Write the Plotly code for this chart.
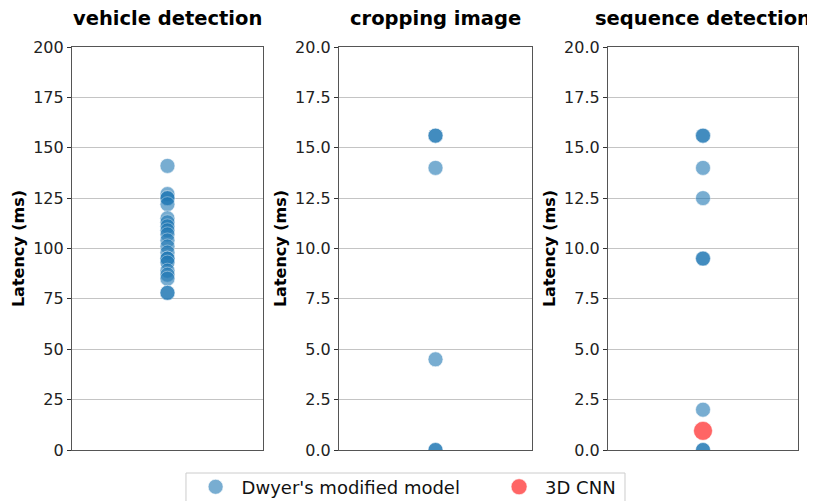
import plotly.graph_objects as go
from plotly.subplots import make_subplots

panel_titles = ["vehicle detection", "cropping image", "sequence detection"]
vehicle_dwyer = [141, 127, 125, 125, 122, 115, 113, 111, 109, 107, 104, 101,
                 98, 95, 95, 93, 89, 87, 85, 78, 78]
cropping_dwyer = [15.6, 15.6, 14.0, 4.5, 0.0, 0.0]
sequence_dwyer = [15.6, 15.6, 14.0, 12.5, 9.5, 9.5, 2.0, 0.0, 0.0]
sequence_cnn = [0.95]
y_ranges = [[0, 200], [0, 20], [0, 20]]
tick_vals_1 = [0, 25, 50, 75, 100, 125, 150, 175, 200]
tick_vals_2 = [0, 2.5, 5, 7.5, 10, 12.5, 15, 17.5, 20]
tick_text_2 = ["0.0", "2.5", "5.0", "7.5", "10.0", "12.5", "15.0", "17.5", "20.0"]

BLUE = "#1f77b4"
RED = "#ff0000"
FONT = "DejaVu Sans"

fig = make_subplots(rows=1, cols=3, horizontal_spacing=0.1)

dwyer_series = [vehicle_dwyer, cropping_dwyer, sequence_dwyer]
for i, vals in enumerate(dwyer_series):
    fig.add_trace(go.Scatter(
        x=[0] * len(vals), y=vals, mode="markers",
        name="Dwyer's modified model", legendgroup="dwyer",
        showlegend=(i == 0), legend="legend",
        marker=dict(size=15, color=BLUE, opacity=0.6,
                    line=dict(color="white", width=0.6)),
    ), row=1, col=i + 1)

fig.add_trace(go.Scatter(
    x=[0] * len(sequence_cnn), y=sequence_cnn, mode="markers",
    name="3D CNN", legendgroup="cnn", showlegend=True, legend="legend2",
    marker=dict(size=19, color=RED, opacity=0.6,
                line=dict(color="white", width=0.6)),
), row=1, col=3)

domains = [[0, 0.263], [0.3678, 0.6336], [0.7383, 1.0]]
for i in range(3):
    xa = "xaxis" if i == 0 else f"xaxis{i+1}"
    ya = "yaxis" if i == 0 else f"yaxis{i+1}"
    fig.layout[xa].update(
        domain=domains[i], range=[-0.5, 0.5], showticklabels=False,
        ticks="", showgrid=False, zeroline=False,
        showline=True, mirror=True, linecolor="#555555", linewidth=1.2,
    )
    if i == 0:
        tv, tt = tick_vals_1, [str(v) for v in tick_vals_1]
    else:
        tv, tt = tick_vals_2, tick_text_2
    fig.layout[ya].update(
        range=y_ranges[i], tickvals=tv, ticktext=tt,
        ticks="outside", ticklen=4, tickcolor="#333333",
        tickfont=dict(family=FONT, size=16, color="#222222"),
        showgrid=True, gridcolor="#c4c4c4", gridwidth=1, zeroline=False,
        showline=True, mirror=True, linecolor="#555555", linewidth=1.2,
        title=dict(text="<b>Latency (ms)</b>",
                   font=dict(family=FONT, size=16, color="black"), standoff=4),
    )
    cx = (domains[i][0] + domains[i][1]) / 2
    fig.add_annotation(
        text=f"<b>{panel_titles[i]}</b>", x=cx, y=1.0, xref="paper", yref="paper",
        xanchor="center", yanchor="bottom", yshift=15, showarrow=False,
        font=dict(family=FONT, size=19.5, color="black"),
    )

# legend frame
fig.add_shape(type="rect", xref="paper", yref="paper",
              x0=0.157, x1=0.7617, y0=-0.14, y1=-0.0571,
              line=dict(color="#cccccc", width=1), fillcolor="rgba(0,0,0,0)")

leg_common = dict(
    orientation="h", yanchor="middle", xanchor="left",
    font=dict(family=FONT, size=18, color="#111111"),
    borderwidth=0, bgcolor="rgba(0,0,0,0)", itemsizing="trace",
    itemwidth=42,
)
# The page body adds an 8px offset; figure is sized to fill the 815x501 window.
fig.update_layout(
    width=807, height=493,
    margin=dict(l=64, r=17, t=39, b=51, autoexpand=False),
    paper_bgcolor="white", plot_bgcolor="white",
    font=dict(family=FONT, color="black"),
    legend=dict(x=0.162, y=-0.092, **leg_common),
    legend2=dict(x=0.580, y=-0.092, **leg_common),
    showlegend=True,
)

fig.write_html("out.html")
